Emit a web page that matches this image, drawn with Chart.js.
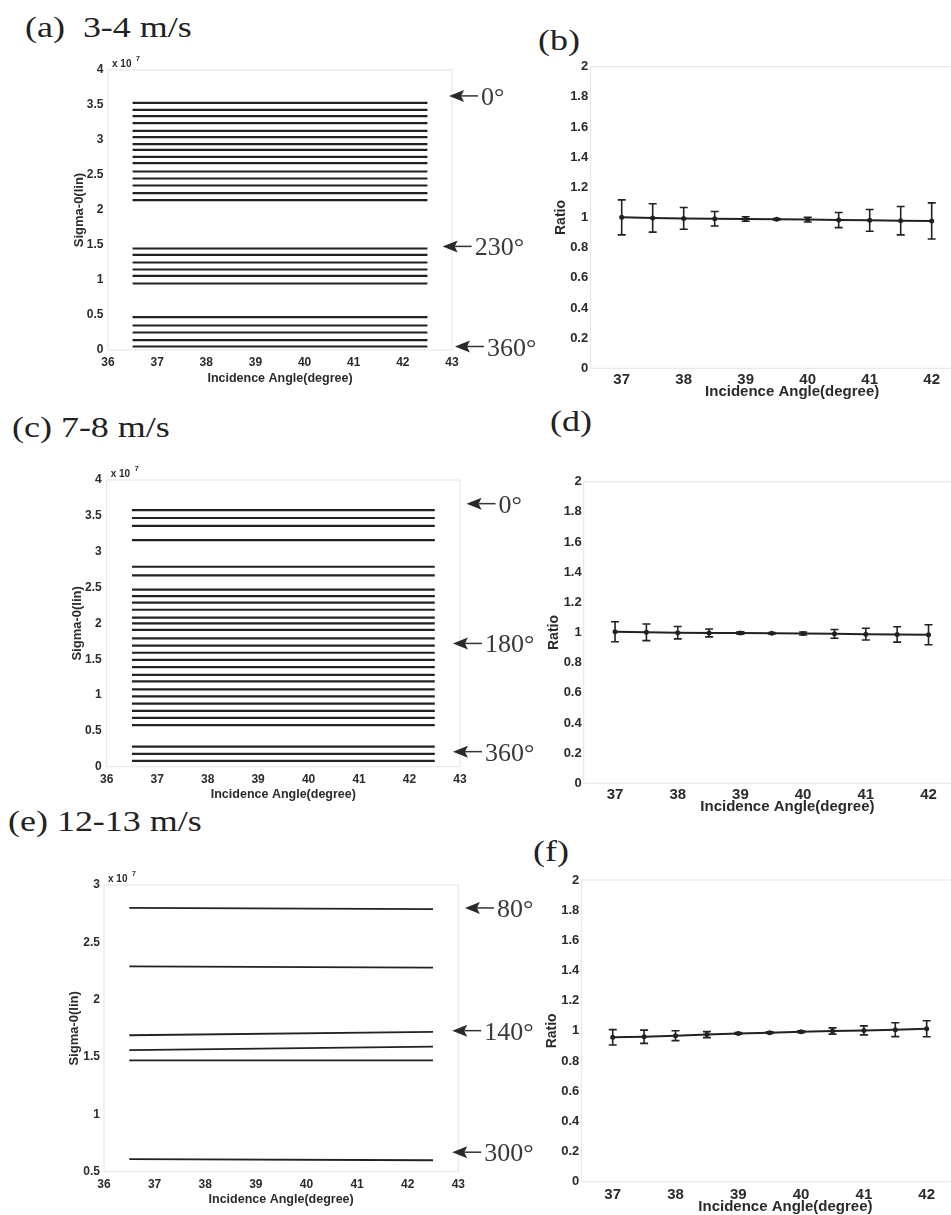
<!DOCTYPE html>
<html>
<head>
<meta charset="utf-8">
<script src="https://cdn.jsdelivr.net/npm/chart.js@4.4.1/dist/chart.umd.min.js"></script>
<style>
  html, body { margin: 0; padding: 0; background: #fff; overflow: hidden; }
  #page { position: relative; width: 951px; height: 1215px; overflow: hidden; background: #fff; }
  .box { position: absolute; }
  .label {
    position: absolute; margin: 0;
    font-family: 'Liberation Serif', 'Times New Roman', serif;
    font-size: 29px; line-height: 29px; color: #222;
    white-space: pre; transform-origin: 0 0; transform: scaleX(1.24);
  }
</style>
</head>
<body>
<div id="page">
  <div class="label" style="left:25px; top:13px">(a)  3-4 m/s</div>
  <div class="label" style="left:538px; top:26px">(b)</div>
  <div class="label" style="left:12px; top:413px">(c) 7-8 m/s</div>
  <div class="label" style="left:550px; top:407px">(d)</div>
  <div class="label" style="left:8px; top:807px">(e) 12-13 m/s</div>
  <div class="label" style="left:533px; top:837px">(f)</div>

  <div class="box" id="boxA"><canvas id="chartA"></canvas></div>
  <div class="box" id="boxC"><canvas id="chartC"></canvas></div>
  <div class="box" id="boxE"><canvas id="chartE"></canvas></div>
  <div class="box" id="boxB"><canvas id="chartB"></canvas></div>
  <div class="box" id="boxD"><canvas id="chartD"></canvas></div>
  <div class="box" id="boxF"><canvas id="chartF"></canvas></div>
</div>
<script>
'use strict';

// ---- data ----
const X_TICKS_SIGMA = [36, 37, 38, 39, 40, 41, 42, 43];
const X_TICKS_RATIO = [37, 38, 39, 40, 41, 42, 43];
const Y_TICKS_SIGMA = [0, 0.5, 1, 1.5, 2, 2.5, 3, 3.5, 4];
const Y_TICKS_SIGMA_E = [0.5, 1, 1.5, 2, 2.5, 3];
const Y_TICKS_RATIO = [0, 0.2, 0.4, 0.6, 0.8, 1, 1.2, 1.4, 1.6, 1.8, 2];

// sigma-0 lines run from 36.5 to 42.5 deg (values in units of 1e7)
const LINE_X = [36.5, 42.5];

// (a) 3-4 m/s
const LEVELS_A = [
  3.53, 3.43, 3.34, 3.24, 3.13, 3.04, 2.94, 2.86, 2.76, 2.67, 2.55, 2.45, 2.35, 2.24, 2.14,
  1.45, 1.36, 1.25, 1.15, 1.06, 0.95,
  0.47, 0.35, 0.25, 0.14, 0.05,
];
// (c) 7-8 m/s
const LEVELS_C = [
  3.58, 3.47, 3.36, 3.16, 2.79, 2.67,
  2.47, 2.38, 2.29, 2.19, 2.08, 2.00, 1.91, 1.79, 1.69, 1.59,
  1.49, 1.39, 1.28, 1.19, 1.08, 0.98, 0.88, 0.78, 0.68, 0.58,
  0.28, 0.18, 0.08,
];
// (e) 12-13 m/s, start and end of each line
const START_E = [2.80, 2.29, 1.69, 1.56, 1.47, 0.61];
const END_E   = [2.79, 2.28, 1.72, 1.59, 1.47, 0.60];

// azimuth markers: label, x (deg), y (1e7)
const ARROWS_A = [['0°', 42.94, 3.63], ['230°', 42.81, 1.48], ['360°', 43.06, 0.05]];
const ARROWS_C = [['0°', 43.13, 3.67], ['180°', 42.86, 1.72], ['360°', 42.86, 0.21]];
const ARROWS_E = [['80°', 43.13, 2.80], ['140°', 42.88, 1.73], ['300°', 42.88, 0.67]];

// ratio panels
const RATIO_X = [37, 37.5, 38, 38.5, 39, 39.5, 40, 40.5, 41, 41.5, 42];
const RATIO_B = [1.001, 0.997, 0.994, 0.992, 0.990, 0.988, 0.986, 0.983, 0.981, 0.979, 0.977];
const ERR_B   = [0.116, 0.094, 0.072, 0.048, 0.015, 0.005, 0.016, 0.050, 0.072, 0.094, 0.120];
const RATIO_D = [1.005, 1.001, 0.999, 0.997, 0.996, 0.995, 0.993, 0.991, 0.989, 0.987, 0.985];
const ERR_D   = [0.066, 0.055, 0.041, 0.026, 0.008, 0.005, 0.010, 0.029, 0.039, 0.051, 0.066];
const RATIO_F = [0.957, 0.961, 0.968, 0.975, 0.983, 0.988, 0.994, 0.999, 1.003, 1.008, 1.014];
const ERR_F   = [0.051, 0.044, 0.033, 0.020, 0.006, 0.005, 0.007, 0.021, 0.030, 0.046, 0.053];

// ---- style ----
const FONT = "'Liberation Sans', Arial, sans-serif";
const INK = '#222';
const TEXT = '#2b2b2b';
const FRAME = '#e4e4e4';

function geometry(box, area, xTickY, xTitleY, yTitleX, f) {
  return {
    padding: { left: 0, top: area.t - box.top, right: box.left + box.w - area.r, bottom: 0 },
    yWidth: area.l - box.left,
    xHeight: box.top + box.h - area.b,
    xTickPad: xTickY - area.b - f.xTick * 0.6,
    xTitlePad: box.top + box.h - xTitleY - f.xTitle * 0.6,
    yTitlePad: yTitleX - box.left - f.yTitle * 0.6,
    yTickPad: area.yTickPad,
  };
}

const frame = {
  id: 'frame',
  beforeDatasetsDraw(chart) {
    const { ctx, chartArea: a } = chart;
    ctx.save();
    ctx.strokeStyle = FRAME;
    ctx.lineWidth = 1;
    ctx.strokeRect(a.left, a.top, a.right - a.left, a.bottom - a.top);
    ctx.restore();
  },
};

const errorBars = {
  id: 'errorBars',
  afterDatasetsDraw(chart) {
    const { ctx } = chart;
    const y = chart.scales.y;
    chart.data.datasets.forEach((ds, i) => {
      if (!ds.errors) return;
      const meta = chart.getDatasetMeta(i);
      ctx.save();
      ctx.strokeStyle = INK;
      ctx.lineWidth = 1.6;
      meta.data.forEach((pt, j) => {
        const v = ds.data[j].y, e = ds.errors[j];
        const top = y.getPixelForValue(v + e);
        const bot = y.getPixelForValue(v - e);
        ctx.beginPath();
        ctx.moveTo(pt.x, top); ctx.lineTo(pt.x, bot);
        ctx.moveTo(pt.x - 4, top); ctx.lineTo(pt.x + 4, top);
        ctx.moveTo(pt.x - 4, bot); ctx.lineTo(pt.x + 4, bot);
        ctx.stroke();
      });
      ctx.restore();
    });
  },
};

function sigmaExtras(arrows) {
  return {
    id: 'sigmaExtras',
    afterDraw(chart) {
      const { ctx, chartArea: a } = chart;
      const { x, y } = chart.scales;
      ctx.save();
      // x 10^7 multiplier
      ctx.fillStyle = TEXT;
      ctx.textBaseline = 'alphabetic';
      ctx.font = `bold 10px ${FONT}`;
      ctx.fillText('x 10', a.left + 4, a.top - 3);
      ctx.font = `bold 7px ${FONT}`;
      ctx.fillText('7', a.left + 28, a.top - 9);
      // azimuth arrows
      arrows.forEach(([txt, ax, ay]) => {
        const tx = x.getPixelForValue(ax);
        const ty = y.getPixelForValue(ay);
        ctx.fillStyle = '#2a2a2a';
        ctx.beginPath();
        ctx.moveTo(tx, ty);
        ctx.lineTo(tx + 15, ty - 6);
        ctx.lineTo(tx + 12, ty);
        ctx.lineTo(tx + 15, ty + 6);
        ctx.closePath();
        ctx.fill();
        ctx.strokeStyle = '#333';
        ctx.lineWidth = 1.5;
        ctx.beginPath();
        ctx.moveTo(tx + 12, ty);
        ctx.lineTo(tx + 29, ty);
        ctx.stroke();
        ctx.fillStyle = '#3a3a3a';
        ctx.font = "26px 'Liberation Serif', 'Times New Roman', serif";
        ctx.fillText(txt, tx + 32, ty + 9);
      });
      ctx.restore();
    },
  };
}

function makeChart(id, box, geo, f, sc, datasets, extraPlugins) {
  const holder = document.getElementById('box' + id);
  holder.style.left = box.left + 'px';
  holder.style.top = box.top + 'px';
  holder.style.width = box.w + 'px';
  holder.style.height = box.h + 'px';

  return new Chart(document.getElementById('chart' + id), {
    type: 'scatter',
    data: { datasets },
    options: {
      responsive: true,
      maintainAspectRatio: false,
      animation: false,
      devicePixelRatio: 1,
      events: [],
      layout: { padding: geo.padding },
      plugins: { legend: { display: false }, tooltip: { enabled: false } },
      scales: {
        x: {
          type: 'linear', min: sc.xMin, max: sc.xMax,
          afterFit: s => { s.height = geo.xHeight; },
          afterBuildTicks: s => { s.ticks = sc.xTicks.map(v => ({ value: v })); },
          grid: { display: false, drawTicks: false },
          border: { display: false },
          ticks: {
            padding: geo.xTickPad, color: TEXT, autoSkip: false, maxRotation: 0,
            font: { family: FONT, size: f.xTick, weight: 'bold' },
            callback: v => String(v),
          },
          title: {
            display: true, text: 'Incidence Angle(degree)', color: TEXT,
            font: { family: FONT, size: f.xTitle, weight: 'bold' },
            padding: { top: 0, bottom: geo.xTitlePad },
          },
        },
        y: {
          type: 'linear', min: sc.yMin, max: sc.yMax,
          afterFit: s => { s.width = geo.yWidth; },
          afterBuildTicks: s => { s.ticks = sc.yTicks.map(v => ({ value: v })); },
          grid: { display: false, drawTicks: false },
          border: { display: false },
          ticks: {
            padding: geo.yTickPad, color: TEXT, autoSkip: false,
            font: { family: FONT, size: f.yTick, weight: 'bold' },
            callback: v => String(v),
          },
          title: {
            display: true, text: sc.yTitle, color: TEXT,
            font: { family: FONT, size: f.yTitle, weight: 'bold' },
            padding: { top: geo.yTitlePad, bottom: 0 },
          },
        },
      },
    },
    plugins: [frame, ...extraPlugins],
  });
}

function flatLines(levels) {
  return levels.map(v => ({
    data: LINE_X.map(x => ({ x, y: v })),
    showLine: true, borderColor: INK, borderWidth: 2.2, pointRadius: 0,
  }));
}

function slopedLines(starts, ends) {
  return starts.map((v, i) => ({
    data: [{ x: LINE_X[0], y: v }, { x: LINE_X[1], y: ends[i] }],
    showLine: true, borderColor: INK, borderWidth: 1.8, pointRadius: 0,
  }));
}

function ratioSet(values, errors) {
  return [{
    data: RATIO_X.map((x, i) => ({ x, y: values[i] })),
    errors,
    showLine: true, borderColor: INK, borderWidth: 2, tension: 0,
    pointRadius: 2.5, pointBackgroundColor: INK, pointBorderWidth: 0,
  }];
}

const fSigma = { xTick: 12, xTitle: 12.5, yTick: 12, yTitle: 13 };
const fRatio = { xTick: 15, xTitle: 15, yTick: 13, yTitle: 14 };

const sigmaScale = { xMin: 36, xMax: 43, xTicks: X_TICKS_SIGMA, yMin: 0, yMax: 4, yTicks: Y_TICKS_SIGMA, yTitle: 'Sigma-0(lin)' };
const sigmaScaleE = { xMin: 36, xMax: 43, xTicks: X_TICKS_SIGMA, yMin: 0.5, yMax: 3, yTicks: Y_TICKS_SIGMA_E, yTitle: 'Sigma-0(lin)' };
const ratioScale = { xMin: 36.5, xMax: 43, xTicks: X_TICKS_RATIO, yMin: 0, yMax: 2, yTicks: Y_TICKS_RATIO, yTitle: 'Ratio' };

// (a)
const boxA = { left: 0, top: 0, w: 540, h: 400 };
makeChart('A', boxA,
  geometry(boxA, { l: 108, t: 70, r: 452, b: 350, yTickPad: 4.5 }, 362.7, 378.3, 79, fSigma),
  fSigma, sigmaScale, flatLines(LEVELS_A), [sigmaExtras(ARROWS_A)]);

// (c)
const boxC = { left: 0, top: 400, w: 540, h: 410 };
makeChart('C', boxC,
  geometry(boxC, { l: 106.7, t: 480, r: 460, b: 766.7, yTickPad: 5 }, 780, 795, 77, fSigma),
  fSigma, sigmaScale, flatLines(LEVELS_C), [sigmaExtras(ARROWS_C)]);

// (e)
const boxE = { left: 0, top: 810, w: 540, h: 405 };
makeChart('E', boxE,
  geometry(boxE, { l: 104, t: 885, r: 458.3, b: 1171.7, yTickPad: 4 }, 1184.3, 1199.3, 74, fSigma),
  fSigma, sigmaScaleE, slopedLines(START_E, END_E), [sigmaExtras(ARROWS_E)]);

// (b)
const boxB = { left: 540, top: 0, w: 480, h: 410 };
makeChart('B', boxB,
  geometry(boxB, { l: 590.7, t: 66.7, r: 993.7, b: 368.3, yTickPad: 2.5 }, 380, 391.7, 561, fRatio),
  fRatio, ratioScale, ratioSet(RATIO_B, ERR_B), [errorBars]);

// (d)
const boxD = { left: 540, top: 400, w: 480, h: 420 };
makeChart('D', boxD,
  geometry(boxD, { l: 583.7, t: 481.7, r: 991.2, b: 783.3, yTickPad: 2 }, 795, 806.7, 554, fRatio),
  fRatio, ratioScale, ratioSet(RATIO_D, ERR_D), [errorBars]);

// (f)
const boxF = { left: 540, top: 810, w: 480, h: 415 };
makeChart('F', boxF,
  geometry(boxF, { l: 581.3, t: 880, r: 989.5, b: 1181.7, yTickPad: 2 }, 1195, 1206.7, 551.7, fRatio),
  fRatio, ratioScale, ratioSet(RATIO_F, ERR_F), [errorBars]);
</script>
</body>
</html>
